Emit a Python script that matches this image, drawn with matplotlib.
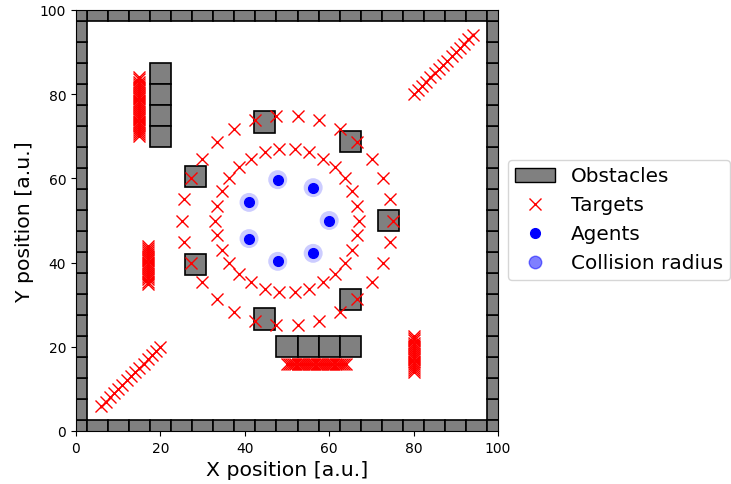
import numpy as np
import matplotlib
matplotlib.use("Agg")
import matplotlib.pyplot as plt
from matplotlib.patches import Rectangle, Circle, Patch
from matplotlib.lines import Line2D

# ---------------------------------------------------------------------
# Data (arena 100 x 100)
obstacle_size = 5
border_pos = [0, 5, 10, 15, 20, 25, 30, 35, 40, 45, 50,
              55, 60, 65, 70, 75, 80, 85, 90, 95, 100]

# inner obstacles (centers)
obs_x = [20, 20, 20, 20, 50, 55, 60, 65,
         74.0, 65.0, 44.7, 28.4, 28.4, 44.7, 65.0]
obs_y = [85, 80, 75, 70, 20, 20, 20, 20,
         50.0, 68.8, 73.4, 60.4, 39.6, 26.6, 31.2]

# targets: inner ring, outer ring, diagonals, dense strips
inner_x = [67.0, 66.6, 65.5, 63.7, 61.4, 58.5, 55.3, 51.8, 48.2, 44.7,
           41.5, 38.6, 36.3, 34.5, 33.4, 33.0, 33.4, 34.5, 36.3, 38.6,
           41.5, 44.7, 48.2, 51.8, 55.3, 58.5, 61.4, 63.7, 65.5, 66.6]
inner_y = [50.0, 53.5, 56.9, 60.0, 62.6, 64.7, 66.2, 66.9, 66.9, 66.2,
           64.7, 62.6, 60.0, 56.9, 53.5, 50.0, 46.5, 43.1, 40.0, 37.4,
           35.3, 33.8, 33.1, 33.1, 33.8, 35.3, 37.4, 40.0, 43.1, 46.5]
outer_x = [75.0, 74.5, 72.8, 70.2, 66.7, 62.5, 57.7, 52.6, 47.4, 42.3,
           37.5, 33.3, 29.8, 27.2, 25.5, 25.0, 25.5, 27.2, 29.8, 33.3,
           37.5, 42.3, 47.4, 52.6, 57.7, 62.5, 66.7, 70.2, 72.8, 74.5]
outer_y = [50.0, 55.2, 60.2, 64.7, 68.6, 71.7, 73.8, 74.9, 74.9, 73.8,
           71.7, 68.6, 64.7, 60.2, 55.2, 50.0, 44.8, 39.8, 35.3, 31.4,
           28.3, 26.2, 25.1, 25.1, 26.2, 28.3, 31.4, 35.3, 39.8, 44.8]
diag_hi = [80, 81, 82, 83, 84, 85, 86, 87, 88, 89, 90, 91, 92, 93, 94]
diag_lo = [6, 7, 8, 9, 10, 11, 12, 13, 14, 15, 16, 17, 18, 19, 20]
strip_a_y = [70.0, 70.5, 71.0, 71.5, 72.0, 72.5, 73.0, 73.5, 74.0, 74.5,
             75.0, 75.5, 76.0, 76.5, 77.0, 77.5, 78.0, 78.5, 79.0, 79.5,
             80.0, 80.5, 81.0, 81.5, 82.0, 82.5, 83.0, 83.5, 84.0]
strip_b_y = [35.0, 35.5, 36.0, 36.5, 37.0, 37.5, 38.0, 38.5, 39.0, 39.5,
             40.0, 40.5, 41.0, 41.5, 42.0, 42.5, 43.0, 43.5, 44.0]
strip_c_y = [14.0, 14.5, 15.0, 15.5, 16.0, 16.5, 17.0, 17.5, 18.0, 18.5,
             19.0, 19.5, 20.0, 20.5, 21.0, 21.5, 22.0, 22.5]
strip_d_x = [50.0, 50.5, 51.0, 51.5, 52.0, 52.5, 53.0, 53.5, 54.0, 54.5,
             55.0, 55.5, 56.0, 56.5, 57.0, 57.5, 58.0, 58.5, 59.0, 59.5,
             60.0, 60.5, 61.0, 61.5, 62.0, 62.5, 63.0, 63.5, 64.0]

# agents
agent_x = [60.0, 56.2, 47.8, 41.0, 41.0, 47.8, 56.2]
agent_y = [50.0, 57.8, 59.7, 54.3, 45.7, 40.3, 42.2]
collision_r = 2.25

# ---------------------------------------------------------------------
fig = plt.figure(figsize=(7.31, 4.85), dpi=100)
ax = fig.add_axes([76 / 731, 53 / 485, 422 / 731, 421 / 485])

def add_obstacle(cx, cy):
    h = obstacle_size / 2
    ax.add_patch(Rectangle((cx - h, cy - h), obstacle_size, obstacle_size,
                           facecolor='gray', edgecolor='black', linewidth=1.2,
                           zorder=2))

for p in border_pos:
    add_obstacle(p, 0)
    add_obstacle(p, 100)
    add_obstacle(0, p)
    add_obstacle(100, p)
for cx, cy in zip(obs_x, obs_y):
    add_obstacle(cx, cy)

tx = (inner_x + outer_x + diag_hi + diag_lo + [15] * len(strip_a_y)
      + [17] * len(strip_b_y) + [80] * len(strip_c_y) + strip_d_x)
ty = (inner_y + outer_y + diag_hi + diag_lo + strip_a_y
      + strip_b_y + strip_c_y + [16] * len(strip_d_x))
ax.plot(tx, ty, 'x', color='red', markersize=8, zorder=3)

for cx, cy in zip(agent_x, agent_y):
    ax.add_patch(Circle((cx, cy), collision_r, facecolor='blue', alpha=0.2,
                        edgecolor='none', zorder=4))
ax.plot(agent_x, agent_y, 'o', color='blue', markersize=7, zorder=5)

ax.set_xlim(0, 100)
ax.set_ylim(0, 100)
ax.set_xticks([0, 20, 40, 60, 80, 100])
ax.set_yticks([0, 20, 40, 60, 80, 100])
ax.set_xlabel('X position [a.u.]', fontsize=14.7)
ax.set_ylabel('Y position [a.u.]', fontsize=14.7)

handles = [
    Patch(facecolor='gray', edgecolor='black', label='Obstacles'),
    Line2D([], [], marker='x', color='red', linestyle='none', markersize=8,
           label='Targets'),
    Line2D([], [], marker='o', color='blue', linestyle='none', markersize=7,
           label='Agents'),
    Line2D([], [], marker='o', color='blue', alpha=0.5, linestyle='none',
           markersize=9, label='Collision radius'),
]
fig.legend(handles=handles, loc='center left', fontsize=14.4,
           borderpad=0.35, bbox_to_anchor=(508 / 731, 1 - 220.5 / 485),
           bbox_transform=fig.transFigure, borderaxespad=0)

fig.savefig('out.png', dpi=100)
